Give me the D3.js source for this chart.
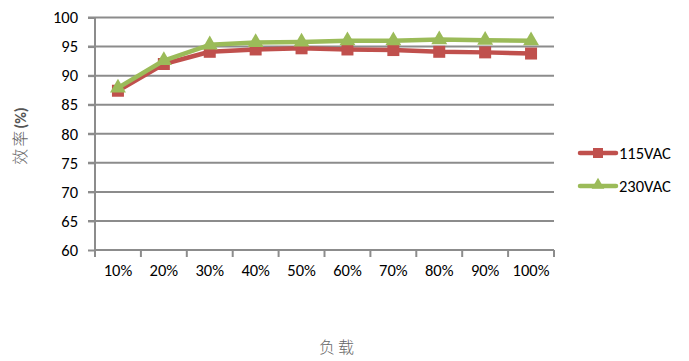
<!DOCTYPE html>
<html>
<head>
<meta charset="utf-8">
<script src="https://cdn.jsdelivr.net/npm/d3@7"></script>
<style>
  html, body { margin: 0; padding: 0; background: #fff; }
  svg { display: block; }
</style>
</head>
<body>
<svg id="chart" width="689" height="361"></svg>
<script>
// Load levels and efficiency readings for each input voltage
const categories = ["10%", "20%", "30%", "40%", "50%", "60%", "70%", "80%", "90%", "100%"];
const eff115 = [87.4, 92.0, 94.1, 94.5, 94.7, 94.5, 94.4, 94.1, 94.0, 93.8];
const eff230 = [87.9, 92.6, 95.3, 95.7, 95.8, 96.0, 96.0, 96.2, 96.1, 96.0];
const yTicks = [60, 65, 70, 75, 80, 85, 90, 95, 100];
const seriesNames = ["115VAC", "230VAC"];
const seriesColors = ["#C0504D", "#9BBB59"];

const svg = d3.select("#chart");
const margin = { left: 95, right: 135, top: 17.5, bottom: 111 };
const W = 689, H = 361;
const plotW = W - margin.left - margin.right;
const plotH = H - margin.top - margin.bottom;

const x = d3.scaleBand().domain(categories).range([0, plotW]);
const y = d3.scaleLinear().domain([60, 100]).range([plotH, 0]);

const g = svg.append("g").attr("transform", `translate(${margin.left},${margin.top})`);

const latin = "Calibri, Carlito, 'Liberation Sans', Arial, sans-serif";
const fs = 16.5;

// Horizontal gridlines
g.append("g")
  .selectAll("line")
  .data(yTicks.filter(v => v !== 60))
  .join("line")
  .attr("x1", -7).attr("x2", plotW)
  .attr("y1", d => y(d)).attr("y2", d => y(d))
  .attr("stroke", "#8c8c8c").attr("stroke-width", 2);

// Y axis
const yAxis = g.append("g")
  .call(d3.axisLeft(y).tickValues(yTicks).tickSize(7).tickPadding(10));
yAxis.select(".domain").attr("stroke", "#8c8c8c").attr("stroke-width", 2)
  .attr("d", `M0,${plotH}V0`);
yAxis.selectAll(".tick line").attr("stroke", "#8c8c8c").attr("stroke-width", 2);
yAxis.selectAll("text").attr("font-family", latin).attr("font-size", fs).attr("fill", "#000");

// X axis with category boundary ticks
const xAxis = g.append("g").attr("transform", `translate(0,${plotH})`)
  .call(d3.axisBottom(x).tickSize(0).tickPadding(14));
xAxis.select(".domain").attr("stroke", "#8c8c8c").attr("stroke-width", 2)
  .attr("d", `M0,0H${plotW}`);
xAxis.selectAll("text").attr("font-family", latin).attr("font-size", fs).attr("fill", "#000");
xAxis.append("g").selectAll("line")
  .data(d3.range(categories.length + 1))
  .join("line")
  .attr("x1", i => i * x.bandwidth()).attr("x2", i => i * x.bandwidth())
  .attr("y1", 0).attr("y2", 7)
  .attr("stroke", "#8c8c8c").attr("stroke-width", 2);

// Lines and markers
const cx = c => x(c) + x.bandwidth() / 2;
const line = d3.line().x((d, i) => cx(categories[i])).y(d => y(d));
const triangle = d3.symbol().type(d3.symbolTriangle).size(110);

function drawSeries(values, color, marker) {
  g.append("path").datum(values)
    .attr("d", line).attr("fill", "none")
    .attr("stroke", color).attr("stroke-width", 4.5)
    .attr("stroke-linejoin", "round");
  const pts = g.append("g").selectAll("g")
    .data(values).join("g")
    .attr("transform", (d, i) => `translate(${cx(categories[i])},${y(d)})`);
  if (marker === "square") {
    pts.append("rect").attr("x", -6).attr("y", -6).attr("width", 12).attr("height", 12)
      .attr("fill", color);
  } else {
    pts.append("path").attr("d", triangle).attr("fill", color);
  }
}
drawSeries(eff115, seriesColors[0], "square");
drawSeries(eff230, seriesColors[1], "triangle");

// Legend
const legend = svg.append("g");
const legendY = [153, 186];
seriesNames.forEach((name, i) => {
  const lg = legend.append("g").attr("transform", `translate(580,${legendY[i]})`);
  lg.append("line").attr("x1", 0).attr("x2", 36).attr("y1", 0).attr("y2", 0)
    .attr("stroke", seriesColors[i]).attr("stroke-width", 4.5).attr("stroke-linecap", "round");
  if (i === 0) {
    lg.append("rect").attr("x", 13).attr("y", -5).attr("width", 10).attr("height", 10)
      .attr("fill", seriesColors[i]);
  } else {
    lg.append("path").attr("d", d3.symbol().type(d3.symbolTriangle).size(70))
      .attr("transform", "translate(18,-1)").attr("fill", seriesColors[i]);
  }
  lg.append("text").attr("x", 39).attr("y", 6)
    .attr("font-family", latin).attr("font-size", fs).attr("fill", "#000")
    .text(name);
});

// Axis titles
const yTitle = svg.append("text")
  .attr("transform", "translate(26,136) rotate(-90)")
  .attr("text-anchor", "middle")
  .attr("font-size", 16);
yTitle.append("tspan").attr("font-family", "'Noto Sans CJK SC', sans-serif")
  .attr("font-weight", 300).attr("fill", "#666").attr("letter-spacing", 2).text("效率");
yTitle.append("tspan").attr("font-family", latin).attr("font-weight", "bold")
  .attr("fill", "#555").text("(%)");

svg.append("text")
  .attr("x", 338).attr("y", 353)
  .attr("text-anchor", "middle")
  .attr("font-family", "'Noto Sans CJK SC', sans-serif")
  .attr("font-weight", 300).attr("font-size", 16).attr("fill", "#666")
  .attr("letter-spacing", 3)
  .text("负载");
</script>
</body>
</html>
